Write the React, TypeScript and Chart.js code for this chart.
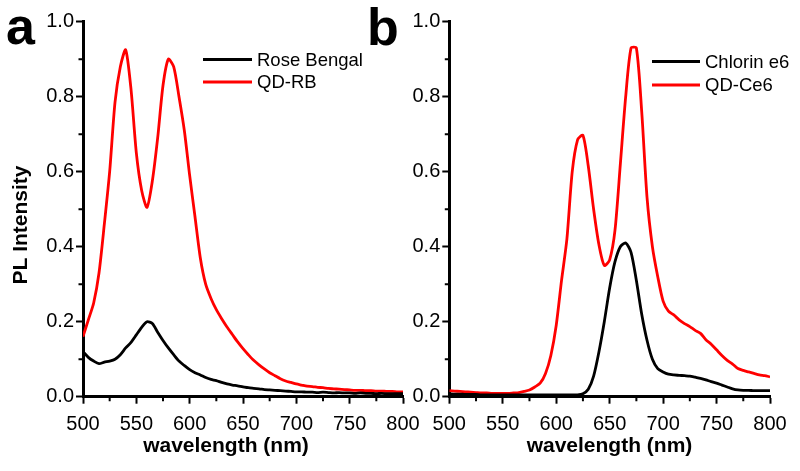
import React, { useEffect, useRef } from "react";
import { Chart, registerables } from "chart.js";

Chart.register(...registerables);

const wavelengths = [
  500, 505, 510, 515, 520, 525, 530, 535, 540, 545, 550, 555, 560, 565, 570, 575, 580, 585, 590, 595,
  600, 605, 610, 615, 620, 625, 630, 635, 640, 645, 650, 655, 660, 665, 670, 675, 680, 685, 690, 695,
  700, 705, 710, 715, 720, 725, 730, 735, 740, 745, 750, 755, 760, 765, 770, 775, 780, 785, 790, 795, 800,
];

const roseBengal = [
  0.12, 0.105, 0.095, 0.088, 0.092, 0.095, 0.1, 0.112, 0.13, 0.145, 0.165, 0.185, 0.2, 0.195, 0.172, 0.15, 0.13, 0.112, 0.095, 0.083,
  0.072, 0.064, 0.058, 0.051, 0.046, 0.043, 0.038, 0.034, 0.031, 0.029, 0.026, 0.024, 0.022, 0.021, 0.019, 0.018, 0.017, 0.016, 0.015, 0.014,
  0.013, 0.013, 0.012, 0.012, 0.011, 0.012, 0.011, 0.01, 0.011, 0.01, 0.01, 0.009, 0.01, 0.009, 0.009, 0.008, 0.009, 0.008, 0.008, 0.008, 0.008,
];

const qdRb = [
  0.16, 0.205, 0.25, 0.33, 0.46, 0.6, 0.785, 0.88, 0.925, 0.82, 0.65, 0.55, 0.505, 0.575, 0.69, 0.83, 0.9, 0.88, 0.8, 0.71,
  0.59, 0.48, 0.37, 0.3, 0.262, 0.232, 0.208, 0.186, 0.166, 0.146, 0.128, 0.112, 0.097, 0.085, 0.074, 0.064, 0.056, 0.048, 0.042, 0.038,
  0.034, 0.031, 0.028, 0.027, 0.025, 0.024, 0.022, 0.021, 0.02, 0.019, 0.018, 0.017, 0.017, 0.016, 0.016, 0.015, 0.015, 0.014, 0.014, 0.013, 0.013,
];

const chlorinE6 = [
  0.008, 0.007, 0.007, 0.006, 0.006, 0.006, 0.005, 0.005, 0.005, 0.005, 0.005, 0.005, 0.005, 0.005, 0.005, 0.005, 0.005, 0.005, 0.005, 0.005,
  0.005, 0.005, 0.005, 0.005, 0.005, 0.008, 0.02, 0.055, 0.12, 0.2, 0.29, 0.36, 0.4, 0.41, 0.385, 0.31, 0.22, 0.15, 0.1, 0.075,
  0.066, 0.06, 0.058, 0.057, 0.056, 0.055, 0.052, 0.049, 0.045, 0.04, 0.036, 0.031, 0.026, 0.021, 0.018, 0.017, 0.017, 0.016, 0.016, 0.016, 0.016,
];

const qdCe6 = [
  0.016, 0.015, 0.014, 0.013, 0.012, 0.011, 0.01, 0.01, 0.009, 0.009, 0.009, 0.009, 0.01, 0.011, 0.014, 0.018, 0.026, 0.036, 0.062, 0.11,
  0.19, 0.31, 0.42, 0.6, 0.685, 0.697, 0.615, 0.5, 0.405, 0.35, 0.365, 0.444, 0.62, 0.8, 0.93, 0.93, 0.76, 0.53, 0.4, 0.32,
  0.255, 0.228, 0.218, 0.205, 0.195, 0.187, 0.177, 0.169, 0.152, 0.14, 0.125, 0.11, 0.097, 0.087, 0.075, 0.07, 0.066, 0.062, 0.058, 0.056, 0.053,
];

const xTickValues = [500, 550, 600, 650, 700, 750, 800];
const yTickLabels = ["0.0", "0.2", "0.4", "0.6", "0.8", "1.0"];
const xMinorTicks = [525, 575, 625, 675, 725, 775];
const yMinorTicks = [0.1, 0.3, 0.5, 0.7, 0.9];

const FONT = "'Liberation Sans', Arial, Helvetica, sans-serif";
const W = 800;
const H = 471;

type PanelCfg = {
  letter: string;
  letterX: number;
  letterY: number;
  series: { label: string; data: number[]; color: string }[];
  legendX1: number;
  legendX2: number;
  legendTextX: number;
  legendYs: number[];
  legendTextYs: number[];
  padLeft: number;
  yWidth: number;
  padRight: number;
  xTitleX: number;
  yTitle: boolean;
};

const panels: PanelCfg[] = [
  {
    letter: "a",
    letterX: 6,
    letterY: 44,
    series: [
      { label: "Rose Bengal", data: roseBengal, color: "#000000" },
      { label: "QD-RB", data: qdRb, color: "#ff0000" },
    ],
    legendX1: 203,
    legendX2: 252,
    legendTextX: 257,
    legendYs: [59.5, 82],
    legendTextYs: [60.5, 83],
    padLeft: 0,
    yWidth: 83,
    padRight: 397,
    xTitleX: 226,
    yTitle: true,
  },
  {
    letter: "b",
    letterX: 367,
    letterY: 45,
    series: [
      { label: "Chlorin e6", data: chlorinE6, color: "#000000" },
      { label: "QD-Ce6", data: qdCe6, color: "#ff0000" },
    ],
    legendX1: 652,
    legendX2: 700,
    legendTextX: 705,
    legendYs: [61.5, 85],
    legendTextYs: [62.5, 86],
    padLeft: 400,
    yWidth: 49.3,
    padRight: 30,
    xTitleX: 609.5,
    yTitle: false,
  },
];

function Panel({ cfg }: { cfg: PanelCfg }) {
  const ref = useRef<HTMLCanvasElement | null>(null);
  useEffect(() => {
    if (!ref.current) return;
    const decor = {
      id: "decor",
      afterDraw(chart: any) {
        const ctx = chart.ctx as CanvasRenderingContext2D;
        const xs = chart.scales.x;
        const ys = chart.scales.y;
        const area = chart.chartArea;
        ctx.save();
        // minor ticks
        ctx.strokeStyle = "#000";
        ctx.lineWidth = 2;
        ctx.beginPath();
        xMinorTicks.forEach((v) => {
          const px = xs.getPixelForValue(v);
          ctx.moveTo(px, area.bottom);
          ctx.lineTo(px, area.bottom + 4.5);
        });
        yMinorTicks.forEach((v) => {
          const py = ys.getPixelForValue(v);
          ctx.moveTo(area.left - 4.5, py);
          ctx.lineTo(area.left, py);
        });
        ctx.stroke();
        // legend
        cfg.series.forEach((s, i) => {
          ctx.strokeStyle = s.color;
          ctx.lineWidth = 3;
          ctx.beginPath();
          ctx.moveTo(cfg.legendX1, cfg.legendYs[i]);
          ctx.lineTo(cfg.legendX2, cfg.legendYs[i]);
          ctx.stroke();
          ctx.fillStyle = "#000";
          ctx.font = `18.5px ${FONT}`;
          ctx.textAlign = "left";
          ctx.textBaseline = "middle";
          ctx.fillText(s.label, cfg.legendTextX, cfg.legendTextYs[i]);
        });
        // panel letter
        ctx.fillStyle = "#000";
        ctx.font = `bold 52px ${FONT}`;
        ctx.textAlign = "left";
        ctx.textBaseline = "alphabetic";
        ctx.fillText(cfg.letter, cfg.letterX, cfg.letterY);
        // axis titles
        ctx.font = `bold 21px ${FONT}`;
        ctx.textAlign = "center";
        ctx.fillText("wavelength (nm)", cfg.xTitleX, 452);
        if (cfg.yTitle) {
          ctx.translate(27, 225);
          ctx.rotate(-Math.PI / 2);
          ctx.fillText("PL Intensity", 0, 0);
        }
        ctx.restore();
      },
    };
    const chart = new Chart(ref.current, {
      type: "line",
      data: {
        datasets: cfg.series.map((s) => ({
          label: s.label,
          data: wavelengths.map((w, i) => ({ x: w, y: s.data[i] })),
          borderColor: s.color,
          borderWidth: 2.8,
          pointRadius: 0,
          tension: 0.25,
          fill: false,
        })),
      },
      options: {
        responsive: false,
        animation: false,
        devicePixelRatio: 1,
        layout: { padding: { left: cfg.padLeft, right: cfg.padRight, top: 21.7, bottom: 0 } },
        plugins: { legend: { display: false }, tooltip: { enabled: false }, title: { display: false } },
        scales: {
          x: {
            type: "linear",
            min: 500,
            max: 800,
            afterFit: (scale: any) => {
              scale.height = H - 396.7;
            },
            afterBuildTicks: (scale: any) => {
              scale.ticks = xTickValues.map((v) => ({ value: v }));
            },
            ticks: {
              font: { family: FONT, size: 20 },
              color: "#000",
              padding: 9,
              maxRotation: 0,
              autoSkip: false,
              callback: (v: any) => String(v),
            },
            grid: {
              drawOnChartArea: false,
              drawTicks: true,
              tickLength: 7,
              tickWidth: 2,
              tickColor: "#000",
            },
            border: { display: true, color: "#000", width: 3 },
          },
          y: {
            type: "linear",
            min: 0,
            max: 1,
            afterFit: (scale: any) => {
              scale.width = cfg.yWidth;
            },
            afterBuildTicks: (scale: any) => {
              scale.ticks = yTickLabels.map((t) => ({ value: parseFloat(t) }));
            },
            ticks: {
              font: { family: FONT, size: 20 },
              color: "#000",
              padding: 2,
              autoSkip: false,
              callback: (v: any) => Number(v).toFixed(1),
            },
            grid: {
              drawOnChartArea: false,
              drawTicks: true,
              tickLength: 7,
              tickWidth: 2,
              tickColor: "#000",
            },
            border: { display: true, color: "#000", width: 3 },
          },
        },
      },
      plugins: [decor],
    } as any);
    return () => chart.destroy();
  }, [cfg]);
  return (
    <canvas
      ref={ref}
      width={W}
      height={H}
      style={{ position: "absolute", left: 0, top: 0, width: W, height: H }}
    />
  );
}

export default function App() {
  return (
    <div style={{ position: "absolute", left: 0, top: 0, width: W, height: H, background: "#fff" }}>
      {panels.map((p) => (
        <Panel key={p.letter} cfg={p} />
      ))}
    </div>
  );
}
